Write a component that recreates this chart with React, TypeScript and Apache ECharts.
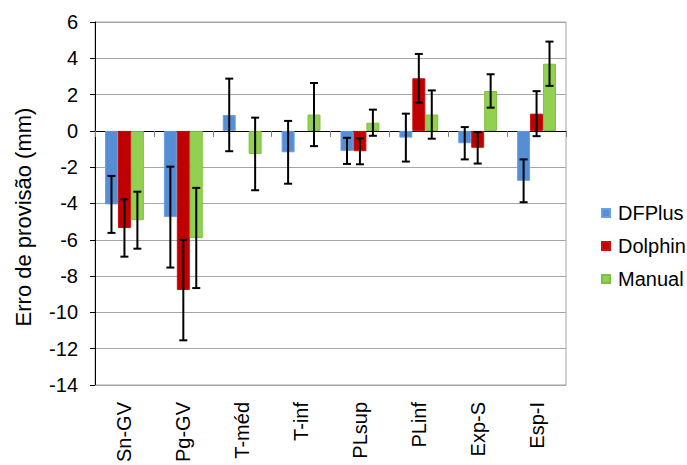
import React, { useEffect, useRef } from "react";
import * as echarts from "echarts";

const categories = ["Sn-GV", "Pg-GV", "T-méd", "T-inf", "PLsup", "PLinf", "Exp-S", "Esp-I"];
const seriesNames = ["DFPlus", "Dolphin", "Manual"];
const yTitle = "Erro de provisão (mm)";
const dfplus = [-4.05, -4.75, 0.88, -1.18, -1.1, -0.37, -0.68, -2.75];
const dfplusErr = [1.57, 2.78, 2.0, 1.73, 0.72, 1.32, 0.89, 1.18];
const dolphin: (number | null)[] = [-5.35, -8.77, null, null, -1.12, 2.9, -0.93, 0.95];
const dolphinErr: (number | null)[] = [1.58, 2.77, null, null, 0.72, 1.34, 0.87, 1.24];
const manual = [-4.92, -5.9, -1.27, 0.9, 0.45, 0.9, 2.2, 3.7];
const manualErr = [1.57, 2.76, 2.0, 1.74, 0.72, 1.33, 0.92, 1.22];
const colors = ["#558ed5", "#c00000", "#92d050"];
const borders = ["#6a9fe0", "#c81010", "#7fbf3f"];

const FONT = "'Liberation Sans', Arial, sans-serif";
const GAP = 0.34;

export default function App() {
  const ref = useRef<HTMLDivElement>(null);
  useEffect(() => {
    if (!ref.current) return;
    const chart = echarts.init(ref.current, null, { renderer: "svg" });
    const values = [dfplus, dolphin, manual];
    const errs = [dfplusErr, dolphinErr, manualErr];
    const errData: number[][] = [];
    values.forEach((vals, s) => {
      vals.forEach((v, i) => {
        const e = errs[s][i];
        if (v !== null && e !== null) errData.push([i, s, (v as number) - (e as number), (v as number) + (e as number)]);
      });
    });
    chart.setOption({
      animation: false,
      textStyle: { fontFamily: FONT },
      grid: {
        left: 95, right: 121, top: 22, bottom: 79,
        show: true, borderColor: "#a6a6a6", borderWidth: 1,
      },
      graphic: [
        {
          type: "text",
          x: 23,
          y: 217,
          rotation: Math.PI / 2,
          style: {
            text: yTitle,
            fontSize: 22,
            fontFamily: FONT,
            fill: "#000",
            textAlign: "center",
            textVerticalAlign: "middle",
          },
        },
      ],
      legend: {
        orient: "vertical",
        left: 596,
        top: 198,
        itemWidth: 8,
        itemHeight: 8,
        itemGap: 13,
        icon: "rect",
        data: seriesNames,
        textStyle: { fontSize: 20, color: "#000", fontFamily: FONT, padding: [0, 0, 0, 3] },
      },
      xAxis: [
        {
          type: "category",
          data: categories,
          position: "bottom",
          axisLine: { onZero: false, lineStyle: { color: "#a6a6a6" } },
          axisTick: { show: false },
          axisLabel: { rotate: 90, fontSize: 20, color: "#000", margin: 17, fontFamily: FONT },
          splitLine: { show: false },
        },
        {
          type: "category",
          data: categories,
          position: "top",
          axisLine: { onZero: true, lineStyle: { color: "#000", width: 1 } },
          axisTick: { show: true, inside: true, length: 6, lineStyle: { color: "#808080" } },
          axisLabel: { show: false },
          splitLine: { show: false },
        },
      ],
      yAxis: {
        type: "value",
        min: -14,
        max: 6,
        interval: 2,
        axisLine: { show: true, lineStyle: { color: "#000" } },
        axisTick: { show: true, length: 5, lineStyle: { color: "#000" } },
        axisLabel: { fontSize: 20, color: "#000", margin: 17, fontFamily: FONT },
        splitLine: { lineStyle: { color: "#a6a6a6", width: 1 } },
      },
      series: [
        ...seriesNames.map((name, s) => ({
          name,
          type: "bar",
          xAxisIndex: 0,
          barGap: "0%",
          barCategoryGap: GAP * 100 + "%",
          data: values[s].map((v) => (v === null ? "-" : v)),
          itemStyle: { color: colors[s], borderColor: borders[s], borderWidth: 1 },
          z: 2,
        })),
        {
          type: "custom",
          xAxisIndex: 0,
          yAxisIndex: 0,
          z: 5,
          silent: true,
          encode: { x: 0, y: [2, 3] },
          data: errData,
          renderItem: (params: any, api: any) => {
            const cat = api.value(0);
            const s = api.value(1);
            const lo = api.value(2);
            const hi = api.value(3);
            const bw = (api.size([1, 0])[0] * (1 - GAP)) / 3;
            const x = api.coord([cat, 0])[0] + (s - 1) * bw;
            const yT = api.coord([cat, hi])[1];
            const yB = api.coord([cat, lo])[1];
            const cap = 4;
            const st = { stroke: "#000", lineWidth: 2 };
            return {
              type: "group",
              children: [
                { type: "line", shape: { x1: x, y1: yT, x2: x, y2: yB }, style: st },
                { type: "line", shape: { x1: x - cap, y1: yT, x2: x + cap, y2: yT }, style: st },
                { type: "line", shape: { x1: x - cap, y1: yB, x2: x + cap, y2: yB }, style: st },
              ],
            };
          },
        },
      ],
    });
    return () => chart.dispose();
  }, []);
  return (
    <div
      ref={ref}
      style={{ position: "absolute", left: 0, top: 0, width: 687, height: 465, background: "#fff" }}
    />
  );
}
